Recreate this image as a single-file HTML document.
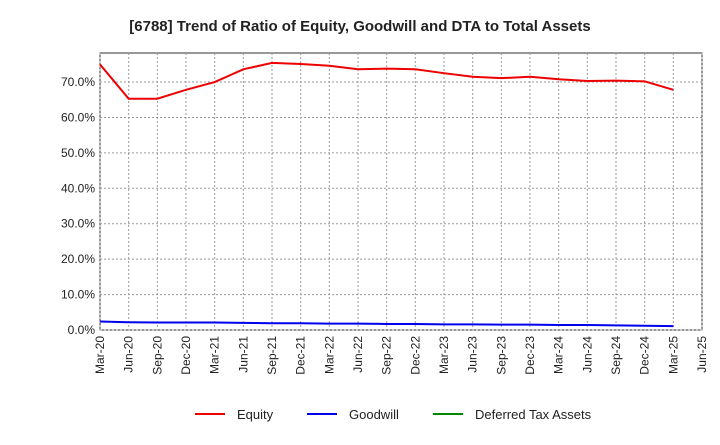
<!DOCTYPE html>
<html><head><meta charset="utf-8"><style>
body{margin:0;background:#fff;font-family:"Liberation Sans",sans-serif;}
svg text{font-family:"Liberation Sans",sans-serif;}
</style></head><body>
<svg id="c" width="720" height="440" xmlns="http://www.w3.org/2000/svg">
<text x="360" y="31" text-anchor="middle" font-size="15" font-weight="bold" fill="#222">[6788]  Trend of Ratio of Equity, Goodwill and DTA to Total Assets</text>
<rect x="100" y="53" width="602" height="277" fill="#fff" stroke="#333"/>
<g id="grid"></g><g id="series"></g><g id="axes"></g>
<g>
<g><line x1="195" y1="414" x2="225" y2="414" stroke="#e00" stroke-width="2"/><text x="237" y="419" font-size="13" fill="#222">Equity</text></g>
<g><line x1="307" y1="414" x2="337" y2="414" stroke="#00e" stroke-width="2"/><text x="349" y="419" font-size="13" fill="#222">Goodwill</text></g>
<g><line x1="433" y1="414" x2="463" y2="414" stroke="#080" stroke-width="2"/><text x="475" y="419" font-size="13" fill="#222">Deferred Tax Assets</text></g>
</g>
</svg>
<script>
const categories=["Mar-20","Jun-20","Sep-20","Dec-20","Mar-21","Jun-21","Sep-21","Dec-21","Mar-22","Jun-22","Sep-22","Dec-22","Mar-23","Jun-23","Sep-23","Dec-23","Mar-24","Jun-24","Sep-24","Dec-24","Mar-25","Jun-25"];
const equity=[75.0,65.3,65.3,67.8,70.0,73.6,75.4,75.1,74.6,73.6,73.8,73.6,72.5,71.5,71.1,71.5,70.8,70.3,70.4,70.2,67.8];
const goodwill=[2.4,2.2,2.1,2.1,2.1,2.0,1.9,1.9,1.8,1.8,1.7,1.7,1.6,1.6,1.5,1.5,1.4,1.4,1.3,1.2,1.1];
const dta=[];
const yTicks=[0,10,20,30,40,50,60,70];
const ns="http://www.w3.org/2000/svg";
const X0=100,X1=702,Y0=330,Y1=53,YMAX=78.2;
const xs=i=>X0+i*(X1-X0)/(categories.length-1);
const ys=v=>Y0-v/YMAX*(Y0-Y1);
function mk(t,a,p){const e=document.createElementNS(ns,t);for(const k in a)e.setAttribute(k,a[k]);p.appendChild(e);return e;}
const g=document.getElementById('grid'),ax=document.getElementById('axes'),s=document.getElementById('series');
yTicks.forEach(v=>{
 const l=mk('line',{x1:X0,x2:X1,y1:ys(v),y2:ys(v),stroke:'#999','stroke-dasharray':'2,2'},g);
 
 
 const t=mk('text',{x:X0-5,y:ys(v)+4,'text-anchor':'end','font-size':12,fill:'#222'},ax);
 t.textContent=v.toFixed(1)+'%';
 
 
});
categories.forEach((c,i)=>{
 const x=xs(i);
 const l=mk('line',{x1:x,x2:x,y1:Y1,y2:Y0,stroke:'#999','stroke-dasharray':'2,2'},g);
 
 
 const t=mk('text',{x:x+4,y:Y0+6,'text-anchor':'end','font-size':12,fill:'#222',transform:`rotate(-90 ${x+4} ${Y0+6})`},ax);
 t.textContent=c;
 
 
});
function line(d,col,name){
 if(!d.length)return;
 const p=mk('polyline',{points:d.map((v,i)=>xs(i)+','+ys(v)).join(' '),fill:'none',stroke:col,'stroke-width':2},s);
 
 
}
line(equity,'#e00','equity-line');
line(goodwill,'#00e','goodwill-line');
line(dta,'#080','dta-line');
</script>
</body></html>
